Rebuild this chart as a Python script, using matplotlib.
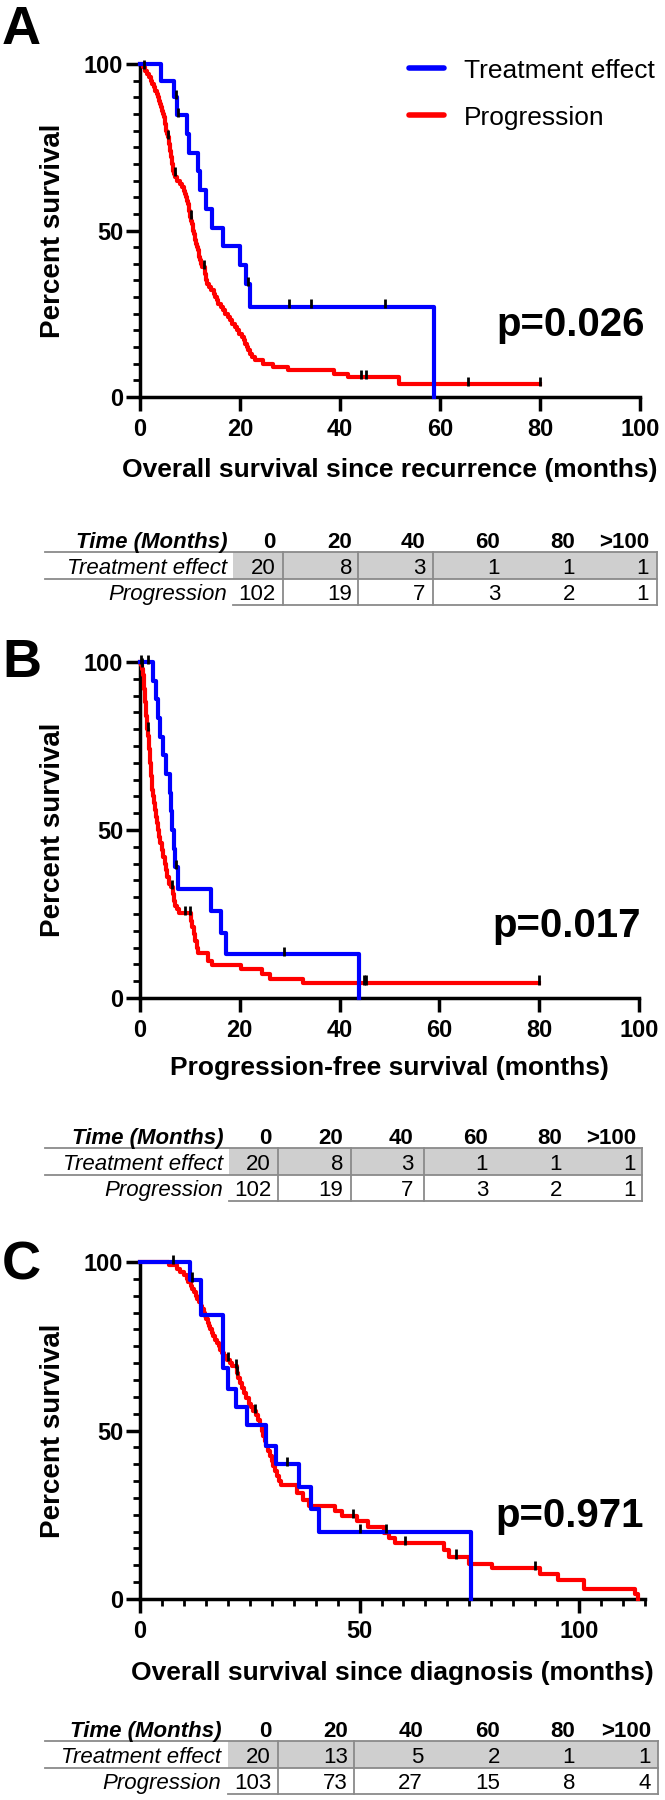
import matplotlib
matplotlib.use("Agg")
import matplotlib.pyplot as plt
import numpy as np
from matplotlib.ticker import MultipleLocator
from matplotlib.patches import Rectangle

plt.rcParams['font.family'] = ['Liberation Sans', 'DejaVu Sans']

# ---------------- DATA ----------------
series_names = ["Treatment effect", "Progression"]
series_colors = ["#0000ff", "#ff0000"]

# Panel A: overall survival since recurrence
tA_te = [0, 4.1, 6.7, 7.3, 9.3, 9.8, 11.5, 11.9, 13.2, 14.4, 16.6, 19.9, 21.2, 22.0, 58.8]
sA_te = [100, 95, 90, 84.7, 79.1, 73.4, 67.8, 62.1, 56.5, 50.8, 45.2, 39.5, 33.9, 27.1, 0]
cA_te = [7.1, 7.6, 21.6, 29.7, 34.2, 48.9]
endA_te = 58.8

tA_pr = [0, 0.6, 0.9, 1.3, 1.7, 2.1, 2.4, 2.8, 3.0, 3.3, 3.5,
         3.7, 3.9, 4.2, 4.4, 4.6, 4.8, 4.9, 5.0, 5.1, 5.2,
         5.35, 5.5, 5.7, 5.8, 5.9, 6.0, 6.1, 6.2, 6.3, 6.4,
         6.5, 6.6, 6.8, 7.0, 7.3, 7.9, 8.3, 8.7, 8.9, 9.1,
         9.3, 9.5, 9.7, 9.8, 9.9, 10.0, 10.2, 10.3, 10.5, 10.6,
         10.8, 10.9, 11.0, 11.2, 11.4, 11.5, 11.7, 11.8, 12.0, 12.2,
         12.4, 12.9, 13.0, 13.1, 13.2, 13.3, 13.7, 14.2, 14.7, 15.0,
         15.3, 15.6, 16.2, 16.6, 17.0, 17.5, 17.9, 18.4, 18.9, 19.3,
         19.8, 20.3, 20.7, 21.0, 21.3, 21.6, 22.0, 22.4, 23.0,
         24.6, 26.5, 29.5, 38.8, 41.5, 51.8]
sA_pr = [100, 99, 98, 97, 96, 95, 94, 93, 92, 91, 90,
         89, 88, 87, 86, 85, 84, 83, 82, 81, 80,
         79, 78, 77, 76, 75, 74, 73, 72, 71, 70,
         69, 68, 67, 66, 65, 64, 63, 62, 61, 60,
         59, 58, 57, 56, 55, 54, 53, 52, 51, 50,
         49, 48, 47, 46, 45, 44, 43, 42, 41, 40,
         39, 38, 37, 36, 35, 34, 33, 32, 31, 30,
         29, 28, 27, 26, 25, 24, 23, 22, 21, 20,
         19, 18, 17, 16, 15, 14, 13, 12, 11,
         10, 9, 8, 7, 6, 3.9]
cA_pr = [0.7, 5.6, 6.9, 10.1, 12.8, 44.2, 45.2, 65.5, 80.0]
endA_pr = 80.0

# Panel B: progression-free survival
tB_te = [0, 2.7, 3.3, 3.6, 4.0, 4.6, 5.3, 6.0, 6.2, 6.5, 6.8, 7.0, 7.6, 14.3, 16.3, 17.2, 43.9]
sB_te = [100, 94.4, 88.9, 83.3, 77.8, 72.2, 66.7, 61.1, 55.6, 50.0, 44.4, 38.9, 32.4, 25.9, 19.4, 13.0, 0]
cB_te = [0.3, 1.6, 7.3, 28.9]
endB_te = 43.9

tB_pr = [0, 0.3, 0.5, 0.6, 0.7, 0.8, 0.9, 1.0, 1.1, 1.2,
         1.3, 1.4, 1.5, 1.7, 1.8, 1.9, 2.0, 2.1, 2.2, 2.3,
         2.4, 2.5, 2.7, 2.8, 3.0, 3.2, 3.4, 3.7, 3.9, 4.1,
         4.4, 4.7, 5.0, 5.2, 5.5, 5.8, 6.2, 6.6, 6.8, 7.0,
         7.4, 7.8, 10.3, 10.5, 10.8, 11.1, 11.4, 11.7, 13.6, 14.4,
         20.3, 24.5, 26.0, 32.6]
sB_pr = [100, 99, 98, 97, 96, 94, 92, 90, 88, 86,
         84, 82, 80, 78, 76, 74, 72, 70, 68, 66,
         64, 62, 60, 58, 56, 54, 52, 50, 48, 46,
         44, 42, 40, 38, 36, 34, 33, 31, 29, 27.5,
         26.5, 25.3, 23, 21, 19, 17, 15, 13.5, 11, 9.8,
         8.5, 7.2, 5.8, 4.5]
cB_pr = [0.4, 1.6, 6.5, 9.0, 10.1, 44.8, 45.3, 80.0]
endB_pr = 80.0

# Panel C: overall survival since diagnosis
tC_te = [0, 11.3, 14.0, 18.8, 20.1, 21.8, 24.3, 28.8, 30.9, 36.2, 38.9, 40.8, 75.4]
sC_te = [100, 94.7, 84.2, 68.4, 62.2, 57.0, 51.5, 45.3, 40.0, 33.3, 26.7, 20.0, 0]
cC_te = [7.5, 11.8, 33.4, 50.1, 56.0]
endC_te = 75.4

tC_pr = [0, 6.5, 8.4, 9.2, 10.0, 10.6, 11.0, 11.5, 11.9, 12.3,
         12.7, 13.0, 13.4, 13.8, 14.1, 14.5, 14.8, 15.1, 15.4, 15.7,
         16.0, 16.4, 16.7, 17.1, 17.5, 17.9, 18.3, 18.7, 19.2, 19.8,
         20.5, 21.0, 22.0, 22.3, 22.8, 23.2, 23.7, 24.2, 24.8, 25.3,
         25.8, 26.4, 26.9, 27.3, 27.7, 28.1, 28.5, 28.8, 29.2, 29.6,
         30.0, 30.4, 30.8, 31.2, 31.7, 32.2, 35.8, 37.2, 38.5, 44.5,
         46.0, 49.5, 52.0, 55.5, 56.8, 58.0, 69.3, 70.4, 75.0, 80.1,
         91.0, 95.3, 101.0, 112.8, 113.4]
sC_pr = [100, 99, 98, 97, 96, 95, 94, 93, 92, 91,
         90, 89, 88, 87, 86, 85, 84, 83, 82, 81,
         80, 79, 78, 77, 76, 75, 74, 73, 72, 71,
         70, 69, 67, 65.5, 64, 62.5, 61, 59.5, 58, 57,
         55.8, 54.5, 53, 51.5, 50, 48.5, 47, 45.5, 44, 42.5,
         41, 39.5, 38, 36.5, 35, 33.8, 31.5, 29.5, 27.5, 26,
         24.5, 23, 21.5, 19.5, 18, 16.5, 14.5, 12.5, 10.5, 9.2,
         7.5, 5.5, 3.0, 1.5, 0]
cC_pr = [20.1, 21.8, 22.2, 26.1, 48.5, 60.3, 72.0, 90.0]
endC_pr = 113.4

p_values = ["p=0.026", "p=0.017", "p=0.971"]
x_labels = ["Overall survival since recurrence (months)",
            "Progression-free survival (months)",
            "Overall survival since diagnosis (months)"]
y_label = "Percent survival"
panel_letters = ["A", "B", "C"]

table_header = "Time (Months)"
table_times = ["0", "20", "40", "60", "80", ">100"]
riskA_te = [20, 8, 3, 1, 1, 1]
riskA_pr = [102, 19, 7, 3, 2, 1]
riskB_te = [20, 8, 3, 1, 1, 1]
riskB_pr = [102, 19, 7, 3, 2, 1]
riskC_te = [20, 13, 5, 2, 1, 1]
riskC_pr = [103, 73, 27, 15, 8, 4]

# ---------------- FIGURE ----------------
W, H = 665, 1800
fig = plt.figure(figsize=(W / 100, H / 100), dpi=100)
ov = fig.add_axes([0, 0, 1, 1])
ov.set_xlim(0, W)
ov.set_ylim(H, 0)
ov.axis('off')


def axes_px(l, r, t, b):
    ax = fig.add_axes([l / W, 1 - b / H, (r - l) / W, (b - t) / H])
    ax.set_facecolor('none')
    return ax


def draw_km(ax, t, s, end, cens, color, z):
    t = np.asarray(t, float)
    s = np.asarray(s, float)
    if end > t[-1]:
        x = np.append(t, end)
        y = np.append(s, s[-1])
    else:
        x, y = t, s
    ax.step(x, y, where='post', color=color, lw=3.0, clip_on=False, zorder=z)
    for c in cens:
        lvl = s[np.searchsorted(t, c, side='right') - 1]
        ax.plot([c, c], [lvl - 0.5, lvl + 2.2], color='black', lw=2.0,
                solid_capstyle='butt', clip_on=False, zorder=6)


def style_axes(ax, xmax, xmajor, xminor=None):
    ax.set_xlim(0, xmax)
    ax.set_ylim(0, 100)
    for sp in ['top', 'right']:
        ax.spines[sp].set_visible(False)
    for sp in ['left', 'bottom']:
        ax.spines[sp].set_linewidth(2.5)
    ax.set_yticks([0, 50, 100])
    ax.yaxis.set_minor_locator(MultipleLocator(5))
    ax.set_xticks(xmajor)
    if xminor:
        ax.xaxis.set_minor_locator(MultipleLocator(xminor))
    ax.tick_params(axis='both', which='major', length=10, width=2.5, labelsize=17)
    ax.tick_params(axis='y', which='major', pad=2)
    ax.tick_params(axis='x', which='major', pad=5)
    ax.tick_params(axis='both', which='minor', length=5, width=2)
    for lab in ax.get_xticklabels() + ax.get_yticklabels():
        lab.set_fontweight('bold')


def draw_table(hc, label_right, cell_left, vlines, right, val_rights, row_te, row_pr, line_left):
    fs = 16
    off = 8
    l1, r1, l2, r2, l3 = hc + 12, hc + 26, hc + 39, hc + 52, hc + 65
    ov.add_patch(Rectangle((cell_left, l1), right - cell_left, l2 - l1,
                           facecolor='#cfcfcf', edgecolor='none', zorder=1))
    lc = '#8a8a8a'
    ov.plot([line_left, right], [l1, l1], color=lc, lw=1.3, zorder=2)
    ov.plot([line_left, right], [l2, l2], color=lc, lw=1.3, zorder=2)
    ov.plot([cell_left, right], [l3, l3], color=lc, lw=1.3, zorder=2)
    for v in list(vlines) + [right]:
        ov.plot([v, v], [l1, l3], color=lc, lw=1.3, zorder=2)
    ov.text(label_right, hc + off, table_header, ha='right', va='baseline',
            fontsize=fs, fontweight='bold', fontstyle='italic')
    ov.text(label_right, r1 + off, series_names[0], ha='right', va='baseline',
            fontsize=fs, fontstyle='italic')
    ov.text(label_right, r2 + off, series_names[1], ha='right', va='baseline',
            fontsize=fs, fontstyle='italic')
    for xr, lab, a, b in zip(val_rights, table_times, row_te, row_pr):
        ov.text(xr, hc + off, lab, ha='right', va='baseline', fontsize=fs, fontweight='bold')
        ov.text(xr, r1 + off, str(a), ha='right', va='baseline', fontsize=fs)
        ov.text(xr, r2 + off, str(b), ha='right', va='baseline', fontsize=fs)


# layout (pixels): left, right, top, bottom of each plot
layouts = [
    dict(l=140, r=640, t=64, b=397, xmax=100, xmaj=[0, 20, 40, 60, 80, 100], xmin=None,
         letter_y=44, xlab_y=470, p_base=336, p_right=645, hc=540,
         lr=227, cl=233, vl=[283, 358, 433], rt=657,
         vr=[276, 352, 425, 500, 575, 649]),
    dict(l=140, r=639, t=662, b=998, xmax=100, xmaj=[0, 20, 40, 60, 80, 100], xmin=None,
         letter_y=677, xlab_y=1068, p_base=937, p_right=641, hc=1136,
         lr=223, cl=229, vl=[278, 351, 424], rt=642,
         vr=[271, 343, 413, 488, 562, 636]),
    dict(l=140, r=645, t=1262, b=1599, xmax=115, xmaj=[0, 50, 100], xmin=5,
         letter_y=1280, xlab_y=1673, p_base=1527, p_right=644, hc=1729,
         lr=221, cl=228, vl=[278, 354], rt=658,
         vr=[271, 348, 423, 500, 575, 651]),
]

curves = [
    ((tA_pr, sA_pr, endA_pr, cA_pr), (tA_te, sA_te, endA_te, cA_te)),
    ((tB_pr, sB_pr, endB_pr, cB_pr), (tB_te, sB_te, endB_te, cB_te)),
    ((tC_pr, sC_pr, endC_pr, cC_pr), (tC_te, sC_te, endC_te, cC_te)),
]
tables = [(riskA_te, riskA_pr), (riskB_te, riskB_pr), (riskC_te, riskC_pr)]

for i, L in enumerate(layouts):
    ax = axes_px(L['l'], L['r'], L['t'], L['b'])
    (pr, te) = curves[i]
    draw_km(ax, *pr, series_colors[1], 3)
    draw_km(ax, *te, series_colors[0], 4)
    style_axes(ax, L['xmax'], L['xmaj'], L['xmin'])
    yc = (L['t'] + L['b']) / 2
    xc = (L['l'] + L['r']) / 2
    ov.text(53, yc, y_label, rotation=90, ha='center', va='center',
            fontsize=20, fontweight='bold')
    ov.text(xc, L['xlab_y'], x_labels[i], ha='center', va='center',
            fontsize=19, fontweight='bold')
    ov.text(2, L['letter_y'], panel_letters[i], ha='left', va='baseline',
            fontsize=39, fontweight='bold')
    ov.text(L['p_right'], L['p_base'], p_values[i], ha='right', va='baseline',
            fontsize=29, fontweight='bold')
    draw_table(L['hc'], L['lr'], L['cl'], L['vl'], L['rt'], L['vr'],
               tables[i][0], tables[i][1], 45)

# legend (panel A)
for name, col, yy in zip(series_names, series_colors, [68, 115]):
    ov.plot([409, 444], [yy, yy], color=col, lw=4, solid_capstyle='round')
    ov.text(464, yy + 9.5, name, ha='left', va='baseline', fontsize=19)

fig.savefig("out.png", dpi=100)
